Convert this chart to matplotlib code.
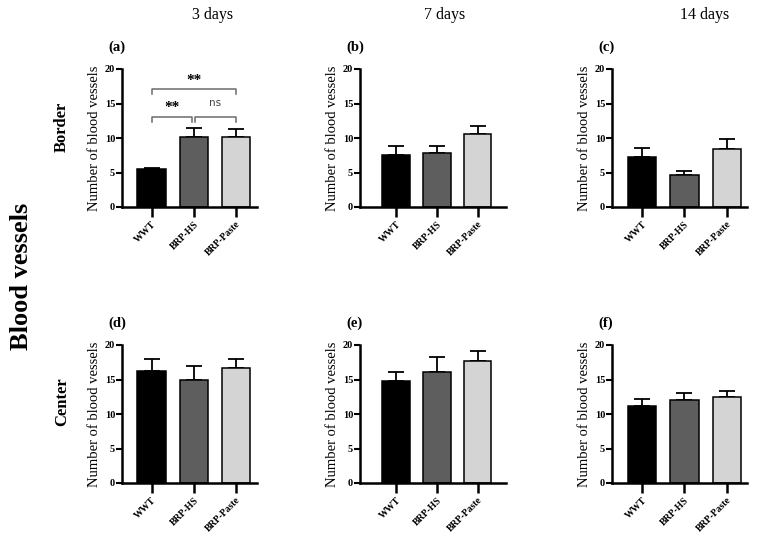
import numpy as np
import matplotlib.pyplot as plt

groups = ['WWT', 'BRP-HS', 'BRP-Paste']
days = ['3 days', '7 days', '14 days']
letters = ['(a)', '(b)', '(c)', '(d)', '(e)', '(f)']
rows = ['Border', 'Center']

# mean and (mean + sd)
border_mean = [[5.5, 10.2, 10.2], [7.5, 7.8, 10.6], [7.3, 4.7, 8.4]]
border_top = [[5.7, 11.5, 11.3], [8.9, 8.9, 11.8], [8.6, 5.2, 9.9]]
center_mean = [[16.2, 15.0, 16.7], [14.8, 16.1, 17.7], [11.2, 12.0, 12.4]]
center_top = [[18.0, 16.9, 18.0], [16.1, 18.2, 19.2], [12.2, 13.0, 13.3]]

colors = ['#000000', '#5e5e5e', '#d4d4d4']

W, H = 763, 548
fig = plt.figure(figsize=(W / 100, H / 100), dpi=100)
plt.rcParams['font.family'] = ['Liberation Serif', 'DejaVu Serif']

# axes boxes in pixels: left, right, xlim left, xlim right
col_px = [(122, 257, -0.7, 2.5), (360, 506, -0.88, 2.69), (612, 747, -0.71, 2.48)]
row_px = [(69, 207), (345, 483)]

for r in range(2):
    means = border_mean if r == 0 else center_mean
    tops = border_top if r == 0 else center_top
    for c in range(3):
        x0, x1, xl, xr = col_px[c]
        yt, yb = row_px[r]
        ax = fig.add_axes([x0 / W, 1 - yb / H, (x1 - x0) / W, (yb - yt) / H])
        x = np.arange(3)
        m = np.array(means[c])
        err = np.array(tops[c]) - m
        ax.bar(x, m, width=0.67, color=colors, edgecolor='black', linewidth=1.1, zorder=2)
        ax.errorbar(x, m, yerr=[np.zeros(3), err], fmt='none', ecolor='black',
                    elinewidth=1.3, capsize=6, capthick=1.3, zorder=1)
        ax.set_xlim(xl, xr)
        ax.set_ylim(0, 20)
        ax.set_yticks([0, 5, 10, 15, 20])
        ax.set_xticks(x)
        ax.set_xticklabels(groups, rotation=45, ha='right', rotation_mode='anchor',
                           fontsize=7, fontweight='bold')
        for lab in ax.get_yticklabels():
            lab.set_fontweight('bold')
            lab.set_fontsize(7.5)
        ax.tick_params(axis='x', length=7, width=1.8, pad=2)
        ax.tick_params(axis='y', length=4, width=1.5, pad=1)
        for s in ['top', 'right']:
            ax.spines[s].set_visible(False)
        for s in ['left', 'bottom']:
            ax.spines[s].set_linewidth(1.8)
        ax.set_ylabel('Number of blood vessels', fontsize=10.5, labelpad=3)
        ax.patch.set_alpha(0)
        fig.text((x0 - 14) / W, 1 - (yt - 22) / H, letters[r * 3 + c],
                 fontsize=10.5, fontweight='bold', ha='left', va='center')

        if r == 0 and c == 0:
            # significance brackets
            br = '#6b6b6b'
            def bracket(a, b, y, h, txt, ty):
                ax.plot([a, a, b, b], [y - h, y, y, y - h], color=br, lw=1.1, clip_on=False)
                if txt == '**':
                    ax.text((a + b) / 2, ty, txt, ha='center', va='center', fontsize=11,
                            fontweight='bold', color='black')
                else:
                    ax.text((a + b) / 2, ty, txt, ha='center', va='center', fontsize=7.5,
                            family='DejaVu Sans', color='#444444')
            bracket(0, 0.97, 13.0, 0.7, '**', 14.4)
            bracket(1.03, 2, 13.0, 0.7, 'ns', 15.0)
            bracket(0, 2, 17.1, 0.7, '**', 18.4)

for c, d in enumerate(days):
    fig.text([213, 445, 705][c] / W, 1 - 15 / H, d, fontsize=11.5, ha='center', va='center')

fig.text(62 / W, 1 - 127 / H, 'Border', fontsize=12, fontweight='bold', rotation=90, ha='center', va='center')
fig.text(62 / W, 1 - 402 / H, 'Center', fontsize=12, fontweight='bold', rotation=90, ha='center', va='center')
fig.text(22 / W, 1 - 276 / H, 'Blood vessels', fontsize=19, fontweight='bold', rotation=90, ha='center', va='center')

plt.savefig('out.png', dpi=100)
